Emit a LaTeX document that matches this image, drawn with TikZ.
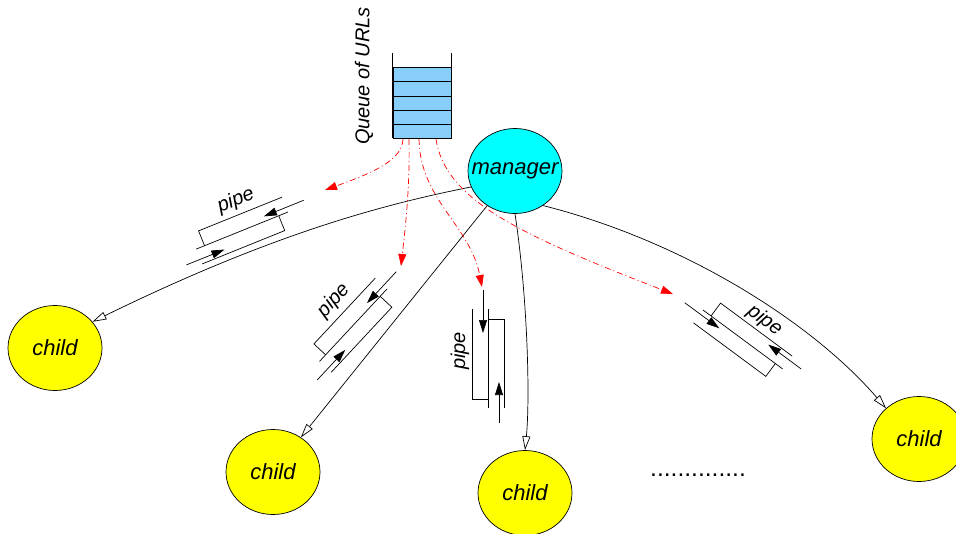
\documentclass[tikz,border=0pt]{standalone}
\usepackage{fontspec}
\setmainfont{Liberation Sans}
\usetikzlibrary{arrows.meta,shapes.geometric}
\definecolor{qblue}{RGB}{135,206,250}
\definecolor{mgr}{RGB}{0,255,255}
\definecolor{kid}{RGB}{255,255,0}
\newcommand\pipebody{%
  \draw[pipeline] (0,0) -- (0,99);
  \draw[pipeline] (-16,0) -- (-16,90) -- (0,90);
  \draw[pipeline] (0,10) -- (16,10) -- (16,99);
  \draw[pipearr] (-5,-19) -- (-5,24);
  \draw[pipearr] (11,114) -- (11,73);
}
\newcommand\zw[1]{\makebox[0pt]{#1}}
\begin{document}
\begin{tikzpicture}[x=1pt,y=-1pt,
  lbl/.style={font=\fontsize{20}{24}\selectfont\itshape, inner sep=0pt},
  blob/.style={ellipse, draw, line width=0.7pt, inner sep=0pt, minimum width=94pt, minimum height=85pt, font=\fontsize{22}{26}\selectfont\itshape},
  link/.style={draw, line width=0.7pt, -{Triangle[open,length=14pt,width=8pt]}},
  feed/.style={draw=red, line width=0.7pt, dash pattern=on 6pt off 3pt on 1pt off 3pt, -{Triangle[length=12pt,width=8pt]}},
  pipearr/.style={line width=0.7pt, -{Triangle[length=13pt,width=8pt]}},
  pipeline/.style={line width=0.7pt}]
\useasboundingbox (0,0) rectangle (956,533);

% queue
\node[draw, fill=qblue, line width=0.7pt, minimum width=58pt, minimum height=71pt, inner sep=0pt] (queue) at (422,102.5) {};
\draw[line width=0.7pt] (queue.south west) -- ++(0,-85);
\draw[line width=0.7pt] (queue.south east) -- ++(0,-85);
\foreach \yy in {81,96,110,124} \draw[line width=0.7pt] (393,\yy) -- (451,\yy);
\node[lbl, rotate=90] (qlabel) at (364,76) {Queue of URLs};

% manager and children
\node[blob, fill=mgr] (manager) at (515,171) {\zw{manager}};
\node[blob, fill=kid] (c1) at (55,348) {\zw{child}};
\node[blob, fill=kid] (c2) at (273,472) {\zw{child}};
\node[blob, fill=kid] (c3) at (525,493) {\zw{child}};
\node[blob, fill=kid] (c4) at (919,439) {\zw{child}};

% connectors manager -> children
\draw[link] (manager.200) .. controls (380,205) and (270,235) .. (c1.35);
\draw[link] (manager) -- (c2);
\draw[link] (manager.south) .. controls (528,300) and (530,400) .. (c3.north);
\draw[link] (manager.-51) .. controls (680,240) and (810,320) .. (c4.137);

% red feed arrows from the queue
\coordinate (qa) at (403,139);
\coordinate (qb) at (409,139);
\coordinate (qc) at (419,139);
\coordinate (qd) at (436,139);
\coordinate (ta) at (325,190);
\coordinate (tb) at (401,266);
\coordinate (tc) at (482,287);
\coordinate (td) at (673,294);
\draw[feed] (qa) .. controls (402,160) and (375,172) .. (ta);
\draw[feed] (qb) .. controls (410,190) and (405,230) .. (tb);
\draw[feed] (qc) .. controls (420,200) and (470,225) .. (tc);
\draw[feed] (qd) .. controls (445,200) and (520,235) .. (td);

% pipes
\begin{scope}[shift={(288,212)}, rotate=-68]
  \pipebody
  \node[lbl, rotate=22] (p1) at (-30,44) {pipe};
\end{scope}
\begin{scope}[shift={(387,289)}, rotate=-43]
  \pipebody
  \node[lbl, rotate=47] (p2) at (-31,45) {pipe};
\end{scope}
\begin{scope}[shift={(488,309)}]
  \pipebody
  \node[lbl, rotate=90] (p3) at (-28,42) {pipe};
\end{scope}
\begin{scope}[shift={(703,310)}, rotate=53.5]
  \pipebody
  \node[lbl, rotate=-36.5] (p4) at (28,56) {pipe};
\end{scope}

\node[anchor=base, inner sep=0pt, font=\fontsize{24.6}{28}\selectfont] (dots) at (698,476) {..............};
\end{tikzpicture}
\end{document}
